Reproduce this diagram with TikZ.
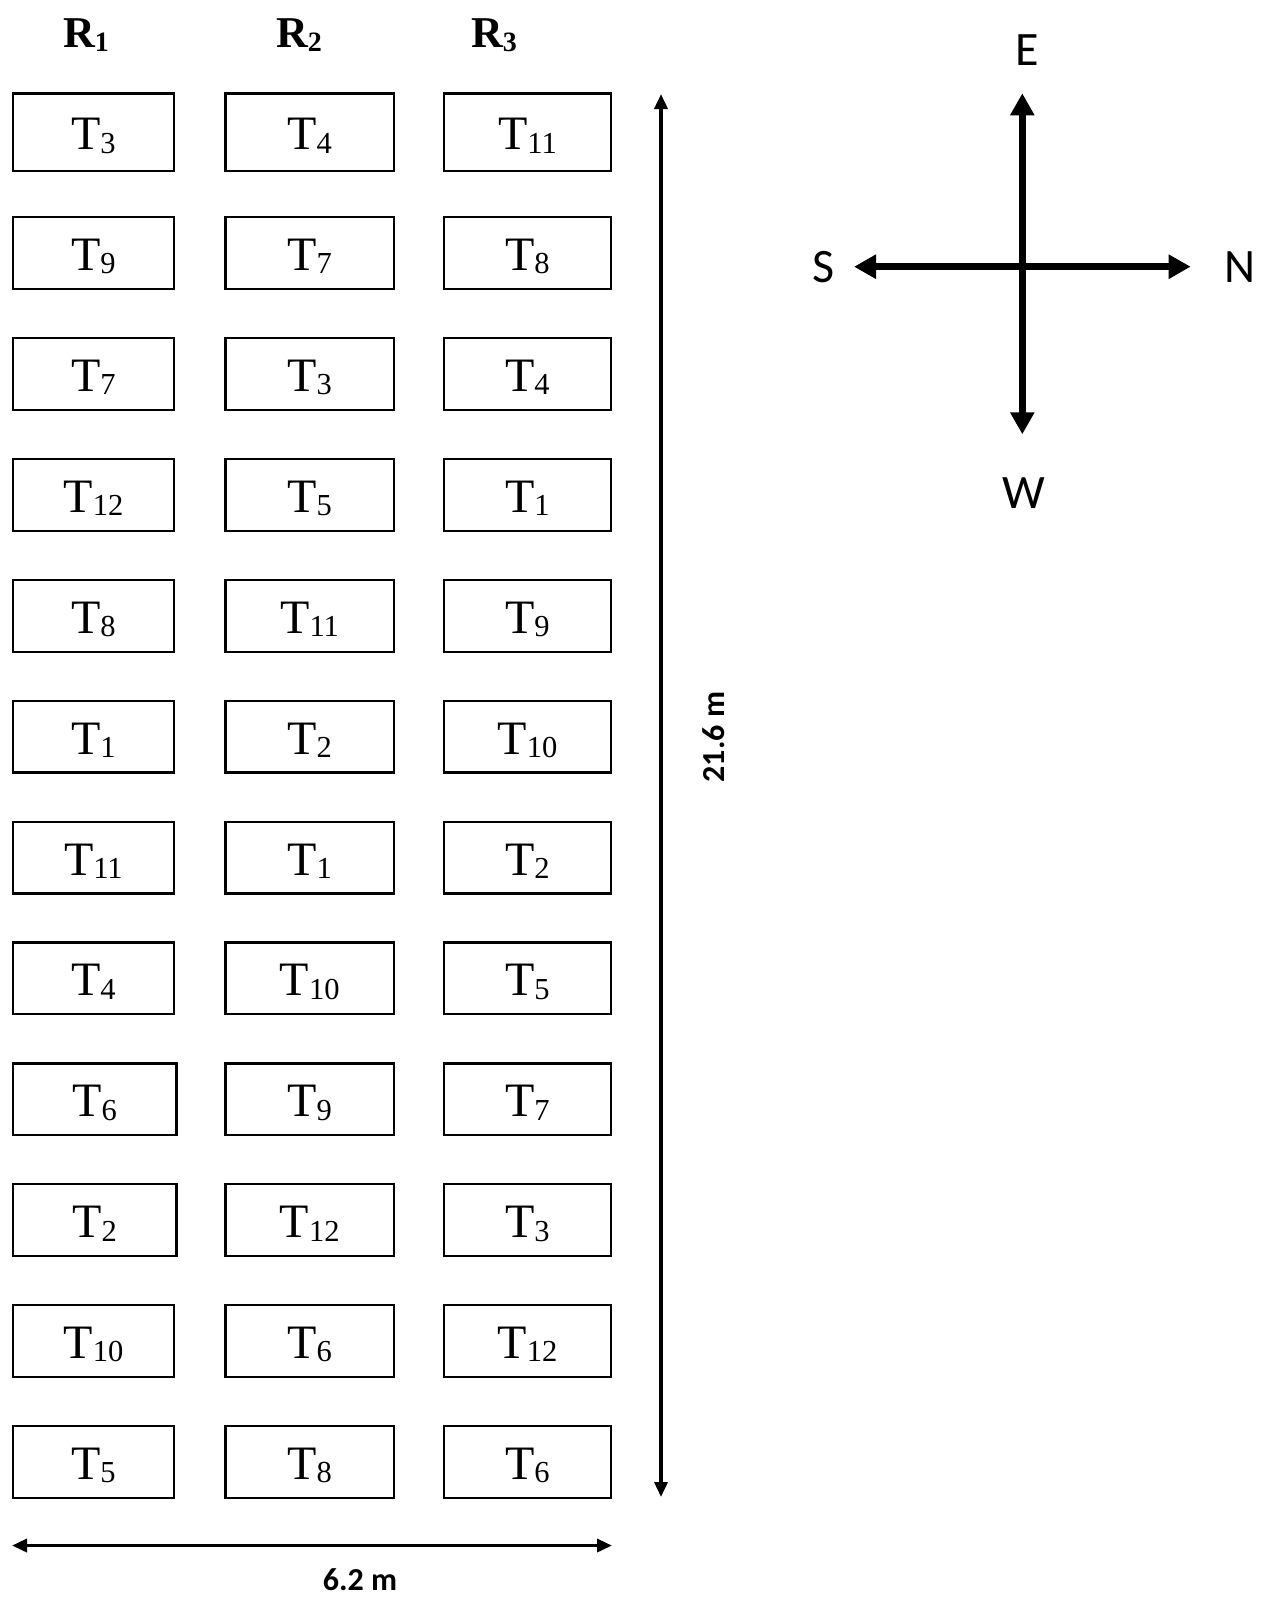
\documentclass[tikz,border=0pt]{standalone}
\usepackage{fontspec}
\setmainfont{Liberation Serif}
\newfontfamily\carl{Carlito}
\usetikzlibrary{arrows.meta}
\newcommand\tsub[1]{\raisebox{-3.3pt}{\fontsize{30.5pt}{30pt}\selectfont #1}}
\newcommand\rsub[1]{\raisebox{-4pt}{\fontsize{28pt}{28pt}\selectfont #1}}
\tikzset{
  plotbox/.style={draw, line width=2.2pt, inner sep=0pt, text height=35pt, text depth=0pt,
    font=\fontsize{48pt}{50pt}\selectfont},
  replabel/.style={anchor=base, inner sep=0pt, font=\fontsize{44pt}{46pt}\selectfont\bfseries},
  dimline/.style={line width=3.5pt, {Triangle[length=15pt,width=13pt]}-{Triangle[length=15pt,width=13pt]}},
  dimlabel/.style={inner sep=0pt, font=\carl\bfseries\fontsize{32pt}{34pt}\selectfont},
  compass/.style={line width=6.5pt, -{Triangle[length=22pt,width=23pt]}},
  dirlabel/.style={inner sep=0pt, font=\carl\fontsize{48pt}{50pt}\selectfont}
}
\begin{document}
\begin{tikzpicture}[x=1pt,y=-1pt]
\useasboundingbox (0,0) rectangle (1269,1599);
% replicate labels
\node[replabel] (R1) at (86,47) {R\rsub{1}};
\node[replabel] (R2) at (299,47) {R\rsub{2}};
\node[replabel] (R3) at (494,47) {R\rsub{3}};
% plots
\foreach \r/\a/\b/\c in {1/3/4/11, 2/9/7/8, 3/7/3/4, 4/12/5/1, 5/8/11/9, 6/1/2/10,
                         7/11/1/2, 8/4/10/5, 9/6/9/7, 10/2/12/3, 11/10/6/12, 12/5/8/6}{
  \ifnum\r=1
    \pgfmathsetmacro\ytop{92.3}\pgfmathsetmacro\hh{80}
  \else
    \pgfmathsetmacro\ytop{216+(\r-2)*120.9}\pgfmathsetmacro\hh{74}
  \fi
  \pgfmathsetmacro\yc{\ytop+\hh/2}
  \ifnum\r=9 \pgfmathsetmacro\xr{177.5}\else\ifnum\r=10 \pgfmathsetmacro\xr{177.5}\else\pgfmathsetmacro\xr{175}\fi\fi
  \pgfmathsetmacro\wa{\xr-11.7-2.2}
  \pgfmathsetmacro\xa{(11.7+\xr)/2}
  \pgfmathsetmacro\hi{\hh-2.2}
  \node[plotbox, minimum width=\wa pt, minimum height=\hi pt] (p\r-1) at (\xa,\yc) {T\tsub{\a}};
  \node[plotbox, minimum width=168.2pt, minimum height=\hi pt] (p\r-2) at (309.6,\yc) {T\tsub{\b}};
  \node[plotbox, minimum width=167.2pt, minimum height=\hi pt] (p\r-3) at (527.4,\yc) {T\tsub{\c}};
}
% dimensions
\coordinate (vtop) at (661,94);
\coordinate (vbot) at (661,1497);
\draw[dimline] (vtop) -- (vbot);
\node[dimlabel, rotate=90] (len) at (714,737) {21.6 m};
\coordinate (hl) at (12,1545.5);
\coordinate (hr) at (612,1545.5);
\draw[dimline] (hl) -- (hr);
\node[dimlabel] (wid) at (360,1580) {6.2 m};
% compass
\coordinate (cc) at (1022.3,266.7);
\coordinate (ce) at (1022.3,93.3);
\coordinate (cw) at (1022.3,434.3);
\coordinate (cs) at (854,266.7);
\coordinate (cn) at (1190.7,266.7);
\draw[compass] (cc) -- (ce);
\draw[compass] (cc) -- (cw);
\draw[compass] (cc) -- (cs);
\draw[compass] (cc) -- (cn);
\node[dirlabel] (E) at (1027,50) {E};
\node[dirlabel] (S) at (824,267) {S};
\node[dirlabel] (N) at (1240,267) {N};
\node[dirlabel] (W) at (1024,493) {W};
\end{tikzpicture}
\end{document}
